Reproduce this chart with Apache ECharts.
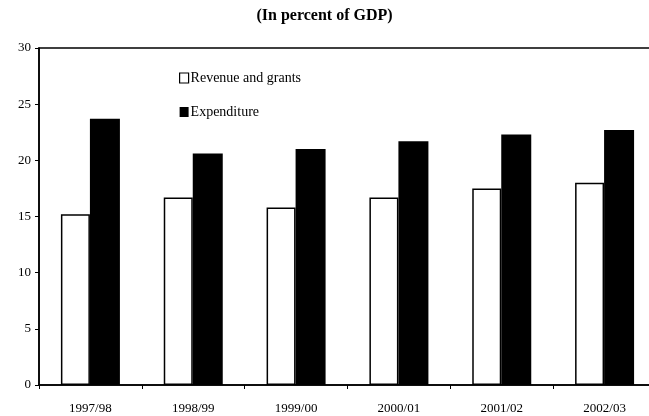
<!DOCTYPE html>
<html>
<head>
<meta charset="utf-8">
<script src="https://cdn.jsdelivr.net/npm/echarts@6/dist/echarts.min.js"></script>
<style>
html,body{margin:0;padding:0;background:#fff;}
#chart{width:649px;height:416px;}
</style>
</head>
<body>
<div id="chart"></div>
<script>
const categories = ['1997/98','1998/99','1999/00','2000/01','2001/02','2002/03'];
const revenueAndGrants = [15.2, 16.7, 15.8, 16.7, 17.5, 18.0];
const expenditure = [23.7, 20.6, 21.0, 21.7, 22.3, 22.7];
const yTicks = [0, 5, 10, 15, 20, 25, 30];

const serif = '"Liberation Serif", "DejaVu Serif", serif';
const chart = echarts.init(document.getElementById('chart'), null, {renderer: 'canvas'});
chart.setOption({
  animation: false,
  backgroundColor: '#fff',
  title: {
    text: '(In percent of GDP)',
    left: 'center',
    top: 3,
    textStyle: {fontFamily: serif, fontSize: 16, fontWeight: 'bold', color: '#000'}
  },
  legend: {
    orient: 'vertical',
    left: 174,
    top: 66,
    itemWidth: 9,
    itemHeight: 10,
    itemGap: 20,
    textStyle: {fontFamily: serif, fontSize: 14, color: '#000', padding: [0,0,0,-3]},
    data: [
      {name: 'Revenue and grants', icon: 'rect', itemStyle: {color: '#fff', borderColor: '#000', borderWidth: 1.2}},
      {name: 'Expenditure', icon: 'rect', itemStyle: {color: '#000'}}
    ]
  },
  grid: {
    left: 39, top: 48, width: 617, height: 337,
    outerBoundsMode: 'none',
    containLabel: false,
    show: true, borderColor: '#000', borderWidth: 1.5, backgroundColor: 'transparent'
  },
  xAxis: {
    type: 'category',
    data: categories,
    axisLine: {lineStyle: {color: '#000', width: 1.5}},
    axisTick: {show: true, length: 4, lineStyle: {color: '#000'}},
    axisLabel: {margin: 17, fontFamily: serif, fontSize: 13, color: '#000'},
    splitLine: {show: false}
  },
  yAxis: {
    type: 'value',
    min: yTicks[0],
    max: yTicks[yTicks.length - 1],
    interval: 5,
    axisLine: {show: true, lineStyle: {color: '#000', width: 1.5}},
    axisTick: {show: true, length: 4, lineStyle: {color: '#000'}},
    axisLabel: {margin: 8, fontFamily: serif, fontSize: 13, color: '#000'},
    splitLine: {show: false}
  },
  series: [
    {
      name: 'Revenue and grants',
      type: 'bar',
      data: revenueAndGrants,
      barWidth: 29,
      barGap: '0%',
      itemStyle: {color: '#fff', borderColor: '#000', borderWidth: 1.5}
    },
    {
      name: 'Expenditure',
      type: 'bar',
      data: expenditure,
      barWidth: 30,
      itemStyle: {color: '#000'}
    }
  ]
});
</script>
</body>
</html>
